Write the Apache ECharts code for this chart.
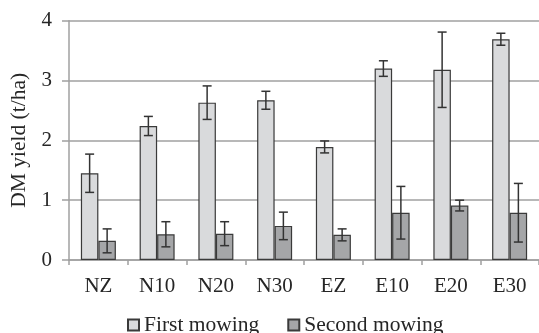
<!DOCTYPE html>
<html><head><meta charset="utf-8">
<script src="https://cdn.jsdelivr.net/npm/echarts@6/dist/echarts.min.js"></script>
<style>html,body{margin:0;padding:0;background:#fff}#c{width:539px;height:333px}</style>
</head><body><div id="c"></div>
<script>
const categories = ['NZ','N10','N20','N30','EZ','E10','E20','E30'];
const firstMowing = [1.45, 2.24, 2.63, 2.67, 1.89, 3.20, 3.18, 3.69];
const firstErr    = [0.32, 0.16, 0.28, 0.15, 0.10, 0.13, 0.63, 0.10];
const secondMowing = [0.32, 0.43, 0.44, 0.57, 0.42, 0.79, 0.91, 0.79];
const secondErr    = [0.20, 0.21, 0.20, 0.23, 0.10, 0.44, 0.09, 0.49];
const yTicks = [0, 1, 2, 3, 4];

const FONT = "'Liberation Serif','Times New Roman',serif";
const TXT = '#262626';
const BW = 17.5;

function errSeries(vals, errs, side) {
  return {
    type: 'custom',
    silent: true,
    z: 5,
    data: vals.map((v, i) => [i, v, errs[i]]),
    renderItem: function (params, api) {
      const i = api.value(0), v = api.value(1), e = api.value(2);
      const c = api.coord([i, v]);
      const x = c[0] + side * BW / 2;
      const top = api.coord([i, v + e])[1];
      const bot = api.coord([i, v - e])[1];
      const h = 4.5;
      const st = { stroke: '#333', lineWidth: 1.5 };
      return { type: 'group', children: [
        { type: 'line', shape: { x1: x, y1: top, x2: x, y2: bot }, style: st },
        { type: 'line', shape: { x1: x - h, y1: top, x2: x + h, y2: top }, style: st },
        { type: 'line', shape: { x1: x - h, y1: bot, x2: x + h, y2: bot }, style: st }
      ]};
    }
  };
}

const chart = echarts.init(document.getElementById('c'), null, { renderer: 'canvas' });
chart.setOption({
  animation: false,
  textStyle: { fontFamily: FONT },
  grid: { left: 69, top: 20.7, width: 480, bottom: 73, containLabel: false },
  legend: {
    data: ['First mowing', 'Second mowing'],
    left: 122, top: 309,
    itemWidth: 11, itemHeight: 11, itemGap: 28,
    textStyle: { fontFamily: FONT, fontSize: 21.5, color: TXT },
    icon: 'rect'
  },
  xAxis: {
    type: 'category', data: categories,
    axisLine: { lineStyle: { color: '#a0a0a0', width: 1.5 } },
    axisTick: { show: true, length: 5, lineStyle: { color: '#a0a0a0', width: 1.5 } },
    axisLabel: { fontFamily: FONT, fontSize: 21, color: TXT, margin: 16 }
  },
  yAxis: {
    type: 'value', min: yTicks[0], max: yTicks[yTicks.length - 1], interval: 1,
    name: 'DM yield (t/ha)', nameLocation: 'middle', nameRotate: 90, nameGap: 29,
    nameTextStyle: { fontFamily: FONT, fontSize: 21.5, color: TXT },
    axisLine: { show: true, lineStyle: { color: '#a0a0a0', width: 1.5 } },
    axisTick: { show: true, length: 7, lineStyle: { color: '#a0a0a0', width: 1.5 } },
    splitLine: { lineStyle: { color: '#a0a0a0', width: 1.5 } },
    axisLabel: { fontFamily: FONT, fontSize: 21, color: TXT, margin: 17 }
  },
  series: [
    { name: 'First mowing', type: 'bar', data: firstMowing, barWidth: BW, barGap: '0%',
      itemStyle: { color: '#d9dadc', borderColor: '#3a3a3a', borderWidth: 1.2 } },
    { name: 'Second mowing', type: 'bar', data: secondMowing, barWidth: BW, barGap: '0%',
      itemStyle: { color: '#a5a6a8', borderColor: '#3a3a3a', borderWidth: 1.2 } },
    errSeries(firstMowing, firstErr, -1),
    errSeries(secondMowing, secondErr, 1)
  ]
});
</script></body></html>
